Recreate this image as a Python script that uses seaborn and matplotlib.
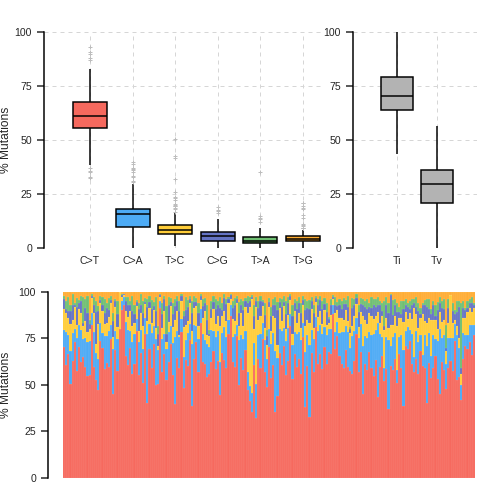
import matplotlib
matplotlib.use("Agg")
import matplotlib.pyplot as plt
import seaborn as sns
import numpy as np
import pandas as pd

# substitution classes, stacked bottom -> top in the lower panel
classes = ["C>T", "C>A", "T>C", "C>G", "T>A", "T>G"]
class_colors = ["#F6695E", "#4DABF5", "#FFCD39", "#6574C4", "#70BF73", "#FFAD33"]
titv_labels = ["Ti", "Tv"]
titv_color = "#B3B3B3"

# per-sample share (%) of each class
ct = [68, 58, 66, 49, 63, 70, 55, 67, 61, 66,
      60, 53, 55, 78, 58, 54, 51, 70, 69, 57,
      63, 56, 71, 48, 66, 57, 80, 90, 93, 64,
      59, 67, 54, 62, 74, 53, 65, 50, 72, 44,
      63, 56, 66, 49, 47, 91, 58, 64, 53, 61,
      67, 55, 42, 62, 58, 76, 51, 64, 57, 72,
      37, 60, 68, 56, 79, 63, 59, 54, 54, 61,
      65, 58, 62, 46, 67, 60, 60, 76, 87, 64,
      57, 73, 52, 63, 59, 66, 46, 41, 35, 61,
      32, 64, 58, 70, 55, 50, 67, 53, 60, 36,
      49, 63, 58, 66, 55, 61, 75, 52, 64, 57,
      62, 54, 72, 39, 60, 31, 65, 56, 76, 59,
      63, 57, 66, 61, 64, 64, 88, 67, 70, 65,
      60, 55, 64, 58, 57, 52, 62, 72, 57, 63,
      49, 61, 56, 65, 59, 53, 62, 47, 57, 64,
      51, 58, 36, 60, 55, 63, 52, 66, 59, 38,
      70, 66, 72, 62, 57, 64, 54, 68, 60, 56,
      40, 61, 53, 58, 65, 50, 45, 62, 57, 48,
      59, 63, 55, 67, 52, 54, 42, 64, 71, 69,
      73, 66, 77]
ca = [9, 17, 10, 17, 15, 7, 17, 11, 17, 10,
      16, 18, 18, 6, 18, 15, 18, 9, 8, 17,
      15, 18, 7, 26, 10, 17, 0, 5, 4, 18,
      18, 9, 17, 16, 6, 17, 12, 18, 8, 40,
      12, 18, 9, 24, 17, 4, 18, 10, 17, 16,
      9, 17, 38, 14, 16, 7, 18, 11, 17, 8,
      32, 17, 8, 17, 7, 15, 12, 18, 14, 17,
      10, 17, 16, 18, 11, 17, 17, 7, 6, 14,
      17, 6, 25, 12, 17, 10, 9, 8, 10, 12,
      18, 13, 18, 8, 17, 15, 9, 18, 17, 33,
      23, 12, 18, 9, 18, 17, 6, 18, 11, 17,
      14, 18, 7, 30, 17, 37, 12, 17, 5, 17,
      15, 18, 10, 16, 12, 13, 5, 9, 7, 12,
      17, 18, 12, 18, 12, 19, 16, 8, 18, 14,
      28, 15, 17, 10, 18, 22, 16, 43, 17, 10,
      7, 17, 36, 11, 17, 14, 7, 9, 18, 30,
      8, 11, 6, 16, 8, 15, 17, 9, 6, 17,
      31, 16, 12, 17, 9, 19, 35, 13, 18, 13,
      16, 12, 17, 8, 24, 16, 8, 14, 6, 8,
      9, 16, 5]
tc = [11, 10, 9, 14, 7, 11, 7, 8, 9, 7,
      9, 5, 6, 8, 10, 5, 20, 10, 12, 6,
      7, 7, 11, 7, 12, 6, 20, 2, 1, 6,
      7, 10, 8, 6, 7, 6, 9, 12, 7, 8,
      8, 5, 8, 6, 2, 2, 6, 12, 4, 5,
      10, 8, 10, 10, 1, 9, 17, 8, 6, 11,
      7, 9, 10, 7, 5, 9, 15, 5, 6, 6,
      11, 7, 8, 20, 9, 8, 9, 9, 3, 10,
      7, 11, 8, 12, 7, 12, 31, 42, 50, 8,
      41, 8, 9, 9, 6, 8, 11, 7, 9, 18,
      8, 11, 5, 11, 6, 7, 7, 6, 11, 6,
      10, 6, 9, 14, 8, 11, 11, 6, 8, 7,
      7, 5, 9, 5, 3, 7, 3, 10, 6, 8,
      7, 6, 8, 6, 8, 5, 8, 7, 6, 6,
      18, 9, 7, 10, 10, 8, 7, 6, 6, 11,
      20, 10, 6, 11, 6, 9, 24, 10, 9, 15,
      10, 4, 9, 8, 26, 9, 7, 9, 22, 7,
      12, 8, 19, 8, 10, 6, 9, 9, 8, 7,
      8, 23, 8, 2, 5, 5, 6, 8, 9, 12,
      9, 7, 9]
cg = [5, 2, 4, 7, 8, 1, 9, 3, 6, 2,
      7, 10, 3, 1, 4, 18, 8, 2, 3, 6,
      8, 4, 2, 9, 3, 7, 0, 1, 1, 5,
      6, 3, 8, 5, 2, 11, 4, 7, 1, 8,
      3, 7, 2, 9, 6, 1, 8, 6, 4, 9,
      2, 7, 8, 5, 13, 3, 6, 8, 7, 2,
      9, 3, 2, 7, 2, 6, 4, 8, 1, 5,
      4, 8, 6, 10, 3, 7, 9, 2, 2, 6,
      8, 2, 7, 4, 9, 3, 5, 3, 1, 7,
      3, 6, 8, 2, 7, 5, 3, 8, 6, 7,
      21, 3, 7, 2, 8, 6, 2, 9, 4, 7,
      5, 8, 3, 9, 6, 7, 4, 8, 2, 6,
      6, 8, 3, 7, 2, 5, 1, 4, 2, 7,
      5, 8, 3, 7, 2, 9, 6, 3, 8, 4,
      6, 7, 8, 3, 4, 7, 5, 4, 9, 3,
      2, 7, 8, 16, 5, 6, 8, 3, 2, 7,
      4, 6, 2, 8, 3, 4, 9, 2, 5, 8,
      9, 5, 3, 8, 2, 10, 5, 7, 6, 2,
      8, 0, 6, 3, 7, 17, 3, 5, 4, 2,
      3, 5, 2]
ta = [2, 4, 7, 3, 6, 1, 5, 2, 3, 14,
      5, 9, 2, 1, 4, 6, 3, 2, 4, 7,
      3, 6, 2, 5, 1, 7, 0, 1, 0, 2,
      4, 2, 8, 5, 1, 3, 6, 6, 2, 5,
      3, 5, 2, 7, 4, 1, 6, 2, 15, 4,
      2, 6, 4, 3, 5, 1, 3, 7, 4, 2,
      6, 3, 2, 5, 1, 4, 3, 8, 2, 4,
      3, 5, 2, 6, 4, 2, 3, 1, 1, 4,
      4, 2, 6, 3, 5, 2, 4, 2, 1, 6,
      2, 4, 3, 1, 6, 3, 2, 5, 3, 4,
      5, 2, 4, 3, 7, 3, 1, 6, 2, 4,
      3, 5, 2, 6, 4, 5, 2, 4, 1, 3,
      2, 4, 3, 5, 1, 3, 1, 4, 2, 3,
      4, 3, 2, 6, 1, 5, 3, 2, 4, 3,
      4, 3, 5, 2, 6, 3, 4, 5, 2, 4,
      13, 4, 5, 1, 8, 3, 5, 3, 7, 4,
      3, 2, 4, 3, 2, 5, 4, 3, 1, 3,
      4, 5, 3, 2, 6, 4, 3, 4, 5, 12,
      5, 0, 4, 2, 6, 3, 35, 4, 1, 4,
      2, 3, 1]
tg = [2, 5, 3, 7, 1, 6, 3, 4, 2, 3,
      4, 2, 15, 1, 3, 5, 8, 2, 3, 4,
      6, 3, 2, 12, 4, 5, 0, 1, 1, 3,
      3, 5, 2, 7, 4, 6, 1, 5, 3, 4,
      2, 4, 5, 3, 17, 1, 6, 2, 8, 3,
      3, 6, 4, 2, 5, 1, 11, 3, 4, 2,
      5, 2, 3, 6, 1, 4, 3, 7, 20, 5,
      2, 4, 5, 3, 6, 1, 4, 3, 1, 5,
      3, 2, 6, 4, 5, 3, 2, 3, 2, 7,
      3, 5, 2, 4, 6, 21, 3, 8, 4, 3,
      6, 3, 4, 2, 5, 3, 1, 7, 4, 5,
      3, 6, 2, 4, 5, 4, 3, 7, 2, 4,
      2, 5, 3, 6, 13, 4, 2, 3, 5, 4,
      5, 3, 4, 2, 19, 3, 4, 1, 7, 3,
      4, 5, 4, 6, 3, 4, 4, 3, 5, 6,
      5, 3, 6, 1, 4, 4, 6, 8, 5, 5,
      4, 6, 5, 4, 4, 3, 6, 9, 6, 4,
      4, 4, 9, 5, 7, 5, 3, 5, 4, 18,
      4, 2, 6, 9, 5, 5, 6, 5, 9, 5,
      4, 3, 6]

counts = pd.DataFrame(dict(zip(classes, [ct, ca, tc, cg, ta, tg])))
pct = counts.div(counts.sum(axis=1), axis=0) * 100
pct["sample"] = np.arange(len(pct))
long = pct.melt(id_vars="sample", var_name="class", value_name="pct")

titv = pd.DataFrame({"Ti": pct["C>T"] + pct["T>C"],
                     "Tv": pct[["C>A", "C>G", "T>A", "T>G"]].sum(axis=1)})
titv_long = titv.melt(var_name="type", value_name="pct")

sns.set_style("white")
plt.rcParams["font.family"] = ["Liberation Sans", "DejaVu Sans"]

W = H = 504
fig = plt.figure(figsize=(7, 7), dpi=72)


def px_axes(x0, y0, x1, y1):
    return fig.add_axes([x0 / W, 1 - y1 / H, (x1 - x0) / W, (y1 - y0) / H])


flier = dict(marker="+", markersize=4, markeredgewidth=1,
             markeredgecolor="#BDBDBD", markerfacecolor="#BDBDBD")


def style_box_axes(ax, xlim):
    ax.set_xlim(*xlim)
    ax.set_ylim(0, 100)
    ax.set_yticks([0, 25, 50, 75, 100])
    ax.set_xlabel("")
    ax.grid(True, linestyle=(0, (4, 4)), color="#D6D6D6", linewidth=1)
    ax.set_axisbelow(True)
    for s in ["top", "right", "bottom"]:
        ax.spines[s].set_visible(False)
    ax.spines["left"].set_linewidth(1.5)
    ax.spines["left"].set_color("black")
    ax.tick_params(axis="y", length=7, width=1.5, pad=5, labelsize=10.5, left=True)
    ax.tick_params(axis="x", length=0, pad=8, labelsize=10.5)
    for ln in ax.lines:
        ln.set_clip_on(False)


# top left: per-class box plot
ax1 = px_axes(44, 32.3, 323, 247.7)
sns.boxplot(data=long, x="class", y="pct", hue="class", order=classes,
            hue_order=classes, palette=class_colors, saturation=1, width=0.8,
            linecolor="black", linewidth=1.5, showcaps=False, flierprops=flier,
            legend=False, ax=ax1)
style_box_axes(ax1, (-1.08, 5.47))
ax1.set_ylabel("% Mutations", fontsize=12)
ax1.yaxis.set_label_coords(-0.115, 0.5)

# top right: Ti / Tv
ax2 = px_axes(353, 32.3, 477, 247.7)
sns.boxplot(data=titv_long, x="type", y="pct", order=titv_labels, color=titv_color,
            saturation=1, width=0.8, linecolor="black", linewidth=1.5,
            showcaps=False, flierprops=flier, ax=ax2)
style_box_axes(ax2, (-1.1, 2.0))
ax2.set_ylabel("")

# bottom: stacked per-sample composition
ax3 = px_axes(63, 291.7, 475, 478)
sns.histplot(data=long, x="sample", weights="pct", hue="class",
             hue_order=classes[::-1], palette=class_colors[::-1],
             multiple="stack", discrete=True, shrink=1, linewidth=0.4,
             edgecolor=(1, 1, 1, 0.18), alpha=1, legend=False, ax=ax3)
ax3.set_xlim(-0.5, len(pct) - 0.5)
ax3.set_ylim(0, 100)
ax3.set_yticks([0, 25, 50, 75, 100])
ax3.set_xticks([])
ax3.set_xlabel("")
for s in ["top", "right", "bottom"]:
    ax3.spines[s].set_visible(False)
ax3.spines["left"].set_position(("outward", 15))
ax3.spines["left"].set_linewidth(1.5)
ax3.spines["left"].set_color("black")
ax3.tick_params(axis="y", length=7, width=1.5, pad=5, labelsize=10.5, left=True)
ax3.set_ylabel("% Mutations", fontsize=12)
ax3.yaxis.set_label_coords(-0.124, 0.5)

fig.savefig("out.png", dpi=72)
